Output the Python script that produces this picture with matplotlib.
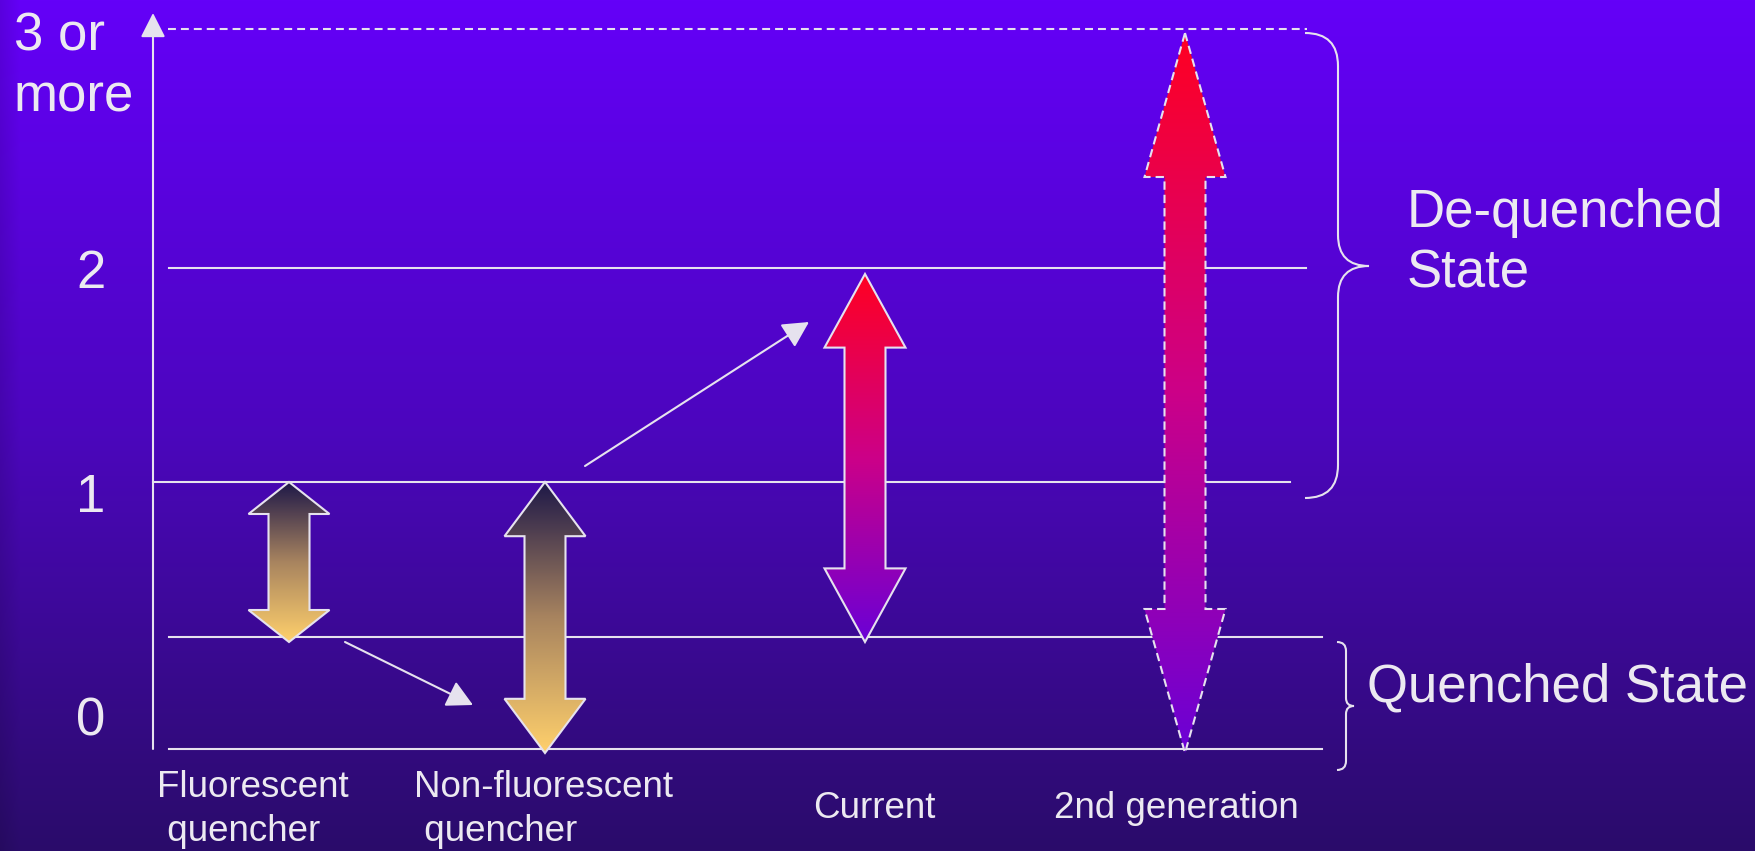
import numpy as np
import matplotlib.pyplot as plt
from matplotlib.patches import Polygon, FancyArrowPatch, PathPatch
from matplotlib.path import Path
from matplotlib.colors import to_rgb

plt.rcParams['font.family'] = ['Liberation Sans', 'DejaVu Sans']

W, H = 1755, 851
TXT = "#ece9f1"
LINE = "#e6e2ee"

# y-axis labels and the row of their (last line) baselines
tick_labels = ["3 or\nmore", "2", "1", "0"]
tick_y = [112, 288, 512, 736]

# horizontal guide levels: (y, x start, x end)
guide_y = [268, 482, 637, 749]
guide_x0 = [169, 153, 169, 169]
guide_x1 = [1306, 1290, 1322, 1322]
top_line_y = 29

# quencher types and their switching range
categories = ["Fluorescent\n quencher", "Non-fluorescent\n quencher", "Current", "2nd generation"]
arrow_x = [289, 545, 865, 1185]
arrow_top = [482, 482, 274, 33]
arrow_bottom = [642, 753, 642, 753]
arrow_dashed = [False, False, False, True]
arrow_palette = ["gold", "gold", "red", "red"]

label_x = [157, 414, 874, 1176]
label_y = [841, 841, 818, 818]
label_ha = ["left", "left", "center", "center"]

palettes = {
    "gold": ["#1e1848", "#a8845f", "#ffd06c"],
    "red": ["#ff0022", "#cc0088", "#6a00d6"],
}


def gradient(colors, n=256):
    stops = np.array([to_rgb(c) for c in colors])
    t = np.linspace(0, 1, n)
    pos = np.linspace(0, 1, len(stops))
    return np.stack([np.interp(t, pos, stops[:, k]) for k in range(3)], axis=1)


def updown_arrow(cx, yt, yb, head_w=40.5, shaft_w=20.5, frac=0.2):
    h = frac * (yb - yt)
    return [(cx, yt), (cx + head_w, yt + h), (cx + shaft_w, yt + h),
            (cx + shaft_w, yb - h), (cx + head_w, yb - h), (cx, yb),
            (cx - head_w, yb - h), (cx - shaft_w, yb - h), (cx - shaft_w, yt + h),
            (cx - head_w, yt + h)]


def brace(ax, x_end, y_top, y_bot, y_mid, r, tip):
    xv = x_end + r
    verts = [(x_end, y_top), (xv, y_top), (xv, y_top + r),
             (xv, y_mid - tip),
             (xv, y_mid), (xv + tip, y_mid),
             (xv, y_mid), (xv, y_mid + tip),
             (xv, y_bot - r),
             (xv, y_bot), (x_end, y_bot)]
    codes = [Path.MOVETO, Path.CURVE3, Path.CURVE3, Path.LINETO,
             Path.CURVE3, Path.CURVE3, Path.CURVE3, Path.CURVE3,
             Path.LINETO, Path.CURVE3, Path.CURVE3]
    ax.add_patch(PathPatch(Path(verts, codes), fill=False, ec=LINE, lw=1.5, zorder=3))


fig = plt.figure(figsize=(17.55, 8.51), dpi=100)
ax = fig.add_axes([0, 0, 1, 1])
ax.axis("off")

# background: violet fading to deep indigo, slightly darker at the left edge
bg = gradient(["#6400f8", "#4c06be", "#2a0c6a"], H)
bg = np.repeat(bg[:, None, :], W, axis=1)
shade = np.clip(0.9 + 0.1 * np.arange(W) / 20.0, 0, 1)
bg = bg * shade[None, :, None]
ax.imshow(bg, extent=[0, W, H, 0], origin="upper", aspect="auto", zorder=0)

# y axis with arrow head
ax.add_patch(FancyArrowPatch((153, 749), (153, 13), arrowstyle="-|>,head_length=0.75,head_width=0.38",
                             mutation_scale=20, color=LINE, lw=1.5, shrinkA=0, shrinkB=0, zorder=3))

for y, x0, x1 in zip(guide_y, guide_x0, guide_x1):
    ax.plot([x0, x1], [y, y], color=LINE, lw=1.5, zorder=2)
ax.plot([168, 1307], [top_line_y, top_line_y], color=LINE, lw=1.5, ls=(0, (3.8, 2.4)), zorder=2)

for lab, y in zip(tick_labels, tick_y):
    if "\n" in lab:
        ax.text(14, y, lab, ha="left", va="baseline", fontsize=38, color=TXT, linespacing=1.3)
    else:
        ax.text(91, y, lab, ha="center", va="baseline", fontsize=38, color=TXT)

# gradient-filled double arrows
for cx, yt, yb, dashed, pal in zip(arrow_x, arrow_top, arrow_bottom, arrow_dashed, arrow_palette):
    pts = updown_arrow(cx, yt, yb)
    poly = Polygon(pts, closed=True, fc="none", ec=LINE, lw=1.5,
                   ls=(0, (4, 2.4)) if dashed else "-", zorder=5)
    ax.add_patch(poly)
    g = gradient(palettes[pal])[:, None, :]
    im = ax.imshow(g, extent=[cx - 41, cx + 41, yb, yt], origin="upper", aspect="auto", zorder=4)
    im.set_clip_path(Polygon(pts, closed=True, transform=ax.transData))

for lab, x, y, ha in zip(categories, label_x, label_y, label_ha):
    ax.text(x, y, lab, ha=ha, va="baseline", fontsize=26.5, color=TXT, linespacing=1.35)

# connectors between the quencher types
for a, b in [((345, 642), (473, 705)), ((585, 466), (809, 322))]:
    ax.add_patch(FancyArrowPatch(a, b, arrowstyle="-|>,head_length=0.8,head_width=0.42",
                                 mutation_scale=20, color=LINE, lw=1.5, shrinkA=0, shrinkB=0, zorder=3))

brace(ax, 1305, 33, 498, 266, 33, 31)
brace(ax, 1337, 642, 770, 706, 9, 8)
ax.text(1407, 287, "De-quenched\nState", ha="left", va="baseline", fontsize=38, color=TXT, linespacing=1.25)
ax.text(1367, 702, "Quenched State", ha="left", va="baseline", fontsize=38, color=TXT)

ax.set_xlim(0, W)
ax.set_ylim(H, 0)
fig.savefig("out.png", dpi=100)
